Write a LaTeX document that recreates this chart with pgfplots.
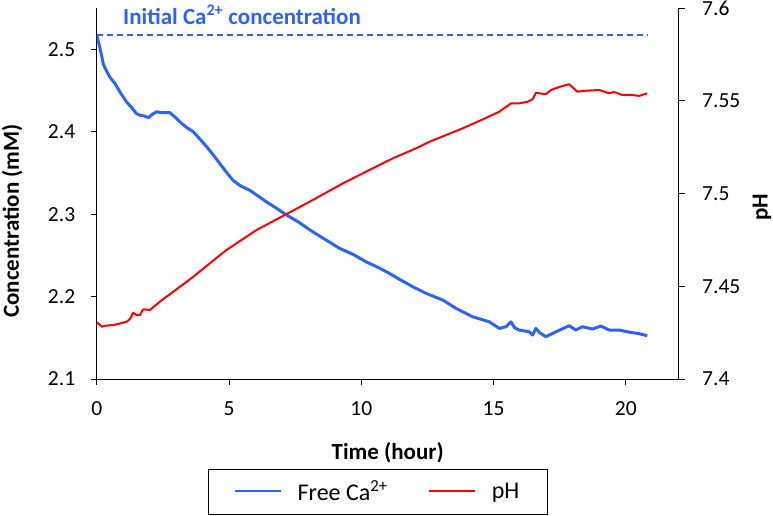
\documentclass[border=0pt]{standalone}
\usepackage{fontspec}
\setmainfont{Carlito}
\usepackage{pgfplots}
\pgfplotsset{compat=1.18}
\definecolor{blueCa}{RGB}{45,100,245}
\definecolor{redpH}{RGB}{255,0,0}
\newcommand\tickfont{\fontsize{21.5bp}{25bp}\selectfont}
\newcommand\labfont{\fontsize{23bp}{27bp}\selectfont\bfseries}
\newcommand\legfont{\fontsize{24bp}{28bp}\selectfont}
\begin{document}
\begin{tikzpicture}
\pgfplotsset{
  common/.style={
    scale only axis, width=582bp, height=371bp,
    xmin=0, xmax=22,
    tick align=outside, major tick length=6bp,
    tick style={black, line width=0.8bp},
    axis line style={-, black, line width=0.8bp},
    ticklabel style={font=\tickfont},
    /pgf/number format/assume math mode=true,
  }
}
\begin{axis}[common,
  at={(0,0)}, anchor=south west,
  ymin=2.1, ymax=2.55,
  axis x line*=bottom, axis y line*=left,
  xtick={0,5,10,15,20},
  ytick={2.1,2.2,2.3,2.4,2.5},
  xticklabel style={yshift=-13bp},
  yticklabel style={xshift=-12bp, /pgf/number format/fixed, /pgf/number format/fixed zerofill, /pgf/number format/precision=1},
]
\addplot[blueCa, dash pattern=on 6bp off 4bp, line width=1.5bp] coordinates {(0,2.517) (20.85,2.517)};
\addplot[blueCa, line width=3bp, line join=round] coordinates {
(0,2.517) (0.1,2.505) (0.2,2.49) (0.25,2.482) (0.35,2.475) (0.5,2.466) (0.7,2.458) (0.9,2.447)
(1.13,2.436) (1.3,2.43) (1.5,2.422) (1.63,2.420) (1.8,2.419) (1.95,2.417) (2.1,2.421) (2.26,2.424)
(2.5,2.423) (2.77,2.423) (2.95,2.418) (3.14,2.412) (3.4,2.405) (3.65,2.400) (3.9,2.391) (4.15,2.382)
(4.4,2.372) (4.65,2.3615) (4.9,2.351) (5.15,2.341) (5.45,2.334) (5.78,2.329) (6.1,2.322) (6.41,2.315)
(6.8,2.307) (7.17,2.299) (7.6,2.291) (8.17,2.2785) (8.6,2.270) (9.18,2.2585) (9.7,2.251) (10.19,2.242)
(10.6,2.236) (11.07,2.228) (11.44,2.221) (11.95,2.2119) (12.45,2.2039) (13.08,2.1958) (13.58,2.1857)
(14.21,2.1755) (14.84,2.1694) (15.22,2.1614) (15.47,2.1634) (15.66,2.1694) (15.8,2.162) (15.97,2.1594)
(16.35,2.1573) (16.48,2.1533) (16.6,2.1614) (16.75,2.156) (16.98,2.1513) (17.36,2.1573) (17.86,2.1646)
(18.11,2.1594) (18.36,2.1634) (18.74,2.1606) (19.06,2.1642) (19.37,2.1594) (19.75,2.1594) (20.1,2.157)
(20.5,2.155) (20.81,2.1525)
};
\end{axis}
\begin{axis}[common,
  at={(0,0)}, anchor=south west,
  ymin=7.4, ymax=7.6,
  axis x line=none, axis y line*=right,
  ytick={7.4,7.45,7.5,7.55,7.6},
  yticklabels={7.4,7.45,7.5,7.55,7.6},
  yticklabel style={xshift=14bp},
  legend style={at={(axis description cs:0.4825,-0.3032)}, anchor=center,
    draw=black, font=\legfont, legend columns=2,
    inner xsep=26bp, inner ysep=10bp,
    /tikz/every even column/.append style={column sep=38bp},
    /tikz/every odd column/.append style={column sep=14bp}},
  legend image code/.code={\draw[#1] (0bp,0bp) -- (46bp,0bp);},
]
\addlegendimage{blueCa, line width=2bp}
\addlegendentry{Free Ca\textsuperscript{2+}}
\addlegendimage{redpH, line width=2bp}
\addlegendentry{pH}
\addplot[redpH, line width=2bp, line join=round, forget plot] coordinates {
(0,7.4306) (0.1,7.4295) (0.19,7.4282) (0.31,7.4287) (0.63,7.4291) (0.9,7.4300) (1.13,7.4309) (1.26,7.4323)
(1.38,7.4357) (1.51,7.4345) (1.63,7.4345) (1.76,7.4376) (2.01,7.4372) (2.39,7.4417) (3.02,7.4484)
(3.65,7.4551) (4.28,7.4624) (4.9,7.4695) (5.5,7.4752) (6.04,7.4803) (7.11,7.4884) (8.17,7.4965)
(9.31,7.5055) (10.44,7.5136) (11.2,7.519) (12.08,7.5244) (12.58,7.5279) (13.83,7.5351) (14.6,7.540)
(15.22,7.5441) (15.66,7.5486) (15.97,7.5486) (16.3,7.5495) (16.48,7.5508) (16.6,7.5543) (16.98,7.5535)
(17.17,7.5558) (17.5,7.5575) (17.86,7.5589) (18.17,7.5549) (18.49,7.5554) (19.0,7.5558) (19.37,7.554)
(19.56,7.5547) (19.87,7.5531) (20.25,7.5531) (20.5,7.5526) (20.81,7.554)
};
\end{axis}
\node[anchor=west, inner sep=0, text=blueCa, font=\labfont] at (26.3bp,364bp) {Initial Ca\textsuperscript{2+} concentration};
\node[font=\labfont] at (291bp,-74bp) {Time (hour)};
\node[font=\labfont, rotate=90] at (-84.7bp,158bp) {Concentration (mM)};
\node[font=\labfont, rotate=90] at (665.3bp,172bp) {pH};
\pgfresetboundingbox
\useasboundingbox (-96.7bp,-137bp) rectangle (676.3bp,379bp);
\end{tikzpicture}
\end{document}
